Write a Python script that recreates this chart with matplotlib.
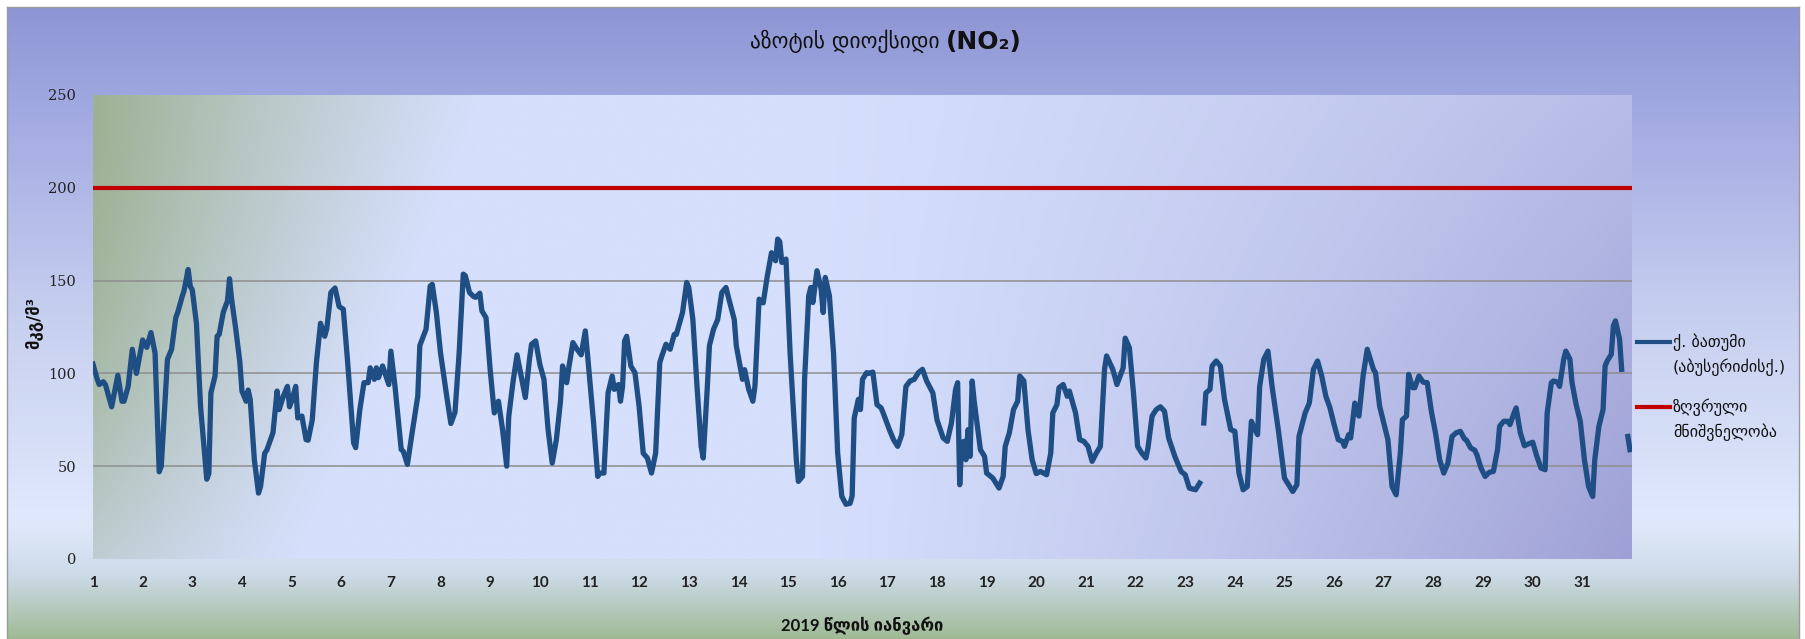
import numpy as np
import matplotlib
matplotlib.use('Agg')
import matplotlib.pyplot as plt
from matplotlib.lines import Line2D

# hourly NO2 readings, January 2019 (hour 0 = Jan 1 00:00); NaN = missing
hours = [
    0, 2, 3, 5, 6, 9, 12, 14, 15, 17, 19, 21, 24, 26, 28, 30, 32, 33, 36, 38,
    40, 41, 43, 44, 46, 47, 48, 50, 52, 55, 56, 57, 59, 60, 61, 63, 65, 66, 67, 69,
    71, 72, 74, 75, 76, 78, 80, 81, 83, 84, 87, 89, 90, 92, 94, 95, 96, 98, 99, 101,
    103, 104, 106, 108, 110, 112, 113, 115, 117, 119, 121, 123, 126, 127, 129, 131, 133, 134, 136, 137,
    138, 140, 143, 144, 146, 149, 150, 152, 154, 157, 158, 161, 163, 164, 166, 168, 171, 173, 175, 177,
    179, 180, 182, 184, 185, 187, 188, 190, 192, 194, 196, 198, 200, 201, 203, 205, 207, 209, 211, 212,
    214, 216, 218, 220, 222, 224, 226, 227, 229, 230, 232, 234, 236, 238, 239, 242, 244, 245, 247, 249,
    251, 252, 254, 255, 256, 257, 258, 260, 262, 264, 266, 268, 270, 272, 274, 275, 277, 279, 281, 282,
    284, 285, 287, 288, 290, 292, 294, 295, 297, 298, 300, 302, 304, 306, 307, 310, 311, 314, 315, 317,
    319, 320, 322, 324, 326, 328, 330, 331, 332, 333, 335, 337, 340, 341, 343, 344, 346, 347, 348, 350,
    352, 353, 354, 356, 358, 360, 362, 364, 366, 367, 368, 370, 371, 372, 374, 375, 377, 379, 381, 382,
    385, 387, 389, 391, 393, 395, 397, 399, 401, 403, 406, 408, 411, 413, 415, 417, 418, 419, 420, 421,
    422, 423, 424, 425, 426, 429, 431, 432, 435, 438, 440, 441, 443, 445, 447, 448, 450, 452, 454, 456,
    458, 461, 463, 464, 466, 467, 469, 471, 472, 475, 477, 479, 481, 483, 485, 487, 489, 490, 493, 495,
    497, 498, 499, 501, 503, 505, 507, 509, 510, 512, 514, 516, 518, 520, 523, 526, 528, 530, 533, 535,
    536, 537, 538, 540, 541, 543, 545, 547, 550, 552, 554, 556, 558, 560, 561, 563, 564, 566, 568, 570,
    573, 576, 577, 580, 582, 583, 586, 588, 590, 592, 594, 596, 598, 600, 602, 604, 605, 607, 608, 610,
    611, 612, 614, 616, 617, 619, 620, 622, 624, 626, 628, 630, 632, 633, 635, 636, 638, 639, 641, 643,
    645, 647, 649, 651, 653, 655, 657, 659, 661, 663, 664, 666, 668, 669, 671, 673, 675, 677, 679, 680,
    682, 684, 685, 687, 688, 690, 692, 693, 696, 698, 700, 702, 703, 705, 706, 708, 709, 711, 712, 714,
    715, 717, 719, 721, 723, 725, 726, 728, 730, 731, 732, 734, 735, 736, 738, 739, 740, 741, 742, 743,
]
no2 = [
    105, 97, 94, 95.5, 94, 82, 99, 85, 85, 93, 113, 100, 118, 114, 122, 111, 47, 50, 107.6, 113,
    130, 133, 141, 144.5, 156, 147, 145, 127, 82, 43, 46, 89.5, 98.6, 120, 121, 133, 139, 151, 140, 124,
    106, 90.5, 85, 91, 86, 53.5, 35.5, 39, 57, 58.6, 68, 90.5, 80.5, 87.7, 93, 82, 85, 93, 76, 77,
    64.3, 64, 75, 105.8, 127, 120, 124, 143.6, 146, 136, 134.6, 107.6, 62.5, 60, 80.5, 95, 95, 103, 96.8, 103,
    97.7, 104, 94, 112, 93, 59, 58, 51, 66, 87.7, 115, 123.8, 147, 148, 132.8, 111, 87.7, 73, 79, 111,
    153.5, 152.6, 143.6, 141.4, 141, 143.2, 133.7, 130, 102, 78.7, 85, 69.7, 50, 76.9, 95, 110, 98.6, 87, 107.6, 115.7,
    117.5, 104.9, 96.8, 69.7, 51.7, 64.3, 85, 104, 95, 103, 116.6, 113, 110, 122.9, 111, 73.3, 44.5, 46.3, 46.3, 89.5,
    98.6, 91.4, 94, 85, 93, 117.5, 120, 104, 100.4, 82.3, 57, 54.4, 46.3, 57, 105.8, 109.4, 115.7, 113, 121, 121,
    129, 132.8, 149, 146.3, 129, 93, 60.7, 54.4, 93, 115, 123.8, 129, 143.6, 146.3, 141.8, 129, 114.8, 96.8, 102, 91.4,
    85, 93, 140, 138, 152.6, 165, 160.7, 172.4, 171, 159.8, 161.6, 111, 53.5, 41.8, 44.5, 96.8, 141.8, 146.3, 138.2, 155.3,
    145.4, 132.8, 151.7, 141.8, 111, 57, 33.7, 29.5, 30, 34, 76, 86, 80.5, 96.8, 100.4, 100, 100.7, 83.2, 81.4, 78.7,
    69.7, 64.3, 60.7, 67, 93, 95.9, 96.8, 100.4, 102.2, 95.9, 89.5, 75, 65.2, 63.4, 73.3, 91.4, 95, 40, 62.5, 63.4,
    53.5, 69.7, 55.3, 95.9, 85, 58.9, 55.3, 46.3, 43.6, 38.2, 44.5, 60.7, 68, 80.5, 85, 98.6, 95.9, 69.7, 53.5, 46,
    47.2, 45.4, 57, 78.7, 83.2, 92.3, 94, 87.7, 90.5, 78.7, 64.3, 63.4, 60.7, 52.6, 57, 60.7, 102.2, 109.4, 102.2, 94,
    100, 103, 119, 113.9, 89.5, 60.7, 57.1, 54.4, 59.8, 77, 80.5, 82, 79.6, 65.2, 55.3, 47.2, 45.4, 38.2, 37.3, 40.9,
    np.nan, 73.3, 89.5, 91.4, 104, 106.7, 104, 86, 69.7, 68.8, 46.3, 37.3, 39, 74.2, 71.5, 67, 93, 107.6, 112, 93,
    69.7, 43.6, 41.8, 36.4, 40, 66, 78.7, 84, 102.2, 106.7, 98.6, 87.7, 81.4, 72.4, 64.3, 63.4, 60.7, 67, 65.2, 84,
    78.7, 77, 98.6, 113, 109.4, 102.2, 100.4, 82.3, 73.3, 64.3, 39, 34.6, 57, 75, 77, 99.5, 92.3, 92.3, 98.6, 95.3,
    95, 79.6, 68, 53.5, 46.3, 51.7, 66, 68, 68.8, 64.7, 64, 59.8, 58.6, 56.2, 49, 44.5, 46.7, 47.2, 58.9, 71.5,
    74.2, 74.2, 72.4, 78.7, 81.4, 68, 61, 61.6, 62.9, 55.3, 49, 48.1, 78.7, 95, 95.9, 95.3, 93, 107.6, 112, 107.6,
    95, 83.2, 74.2, 53.5, 39, 33.7, 53.5, 71.5, 80.5, 104, 106.7, 110.3, 125.6, 128.3, 118.4, 102.2, np.nan, np.nan, 66, 58.9,
]
limit_value = 200
day_ticks = list(range(1, 32))
y_ticks = [0, 50, 100, 150, 200, 250]

title_ka = 'აზოტის დიოქსიდი'
title_formula = '(NO₂)'
series_label = ['ქ. ბათუმი', '(აბუსერიძისქ.)']
limit_label = ['ზღვრული', 'მნიშვნელობა']
xlabel = '2019 წლის იანვარი'
ylabel = 'მკგ/მ³'

W, H = 1805, 639
fig = plt.figure(figsize=(W / 100, H / 100), dpi=100)
fig.patch.set_facecolor('white')

# outer chart frame with vertical gradient
bg = fig.add_axes([7 / W, 0, 1792 / W, 632 / H], zorder=0)
stops = np.array([0.0, 0.15, 0.5, 0.82, 0.9, 1.0])
cols = np.array([[141, 149, 212], [160, 168, 225], [200, 208, 240],
                 [224, 233, 252], [205, 218, 232], [160, 186, 150]]) / 255
t = np.linspace(0, 1, 300)
grad = np.stack([np.interp(t, stops, cols[:, k]) for k in range(3)], axis=1)
bg.imshow(grad[:, None, :], aspect='auto', extent=[0, 1, 0, 1])
bg.set_xticks([])
bg.set_yticks([])
for s in bg.spines.values():
    s.set_color('#9a9a9a')
    s.set_linewidth(1)

ax = fig.add_axes([93 / W, 1 - 559 / H, (1632 - 93) / W, (559 - 95) / H], zorder=1)

# plot-area gradient: green-grey on the left, light blue middle, lavender right
xx, yy = np.meshgrid(np.linspace(0, 1, 400), np.linspace(0, 1, 200))
light = np.array([214, 223, 252]) / 255
green = np.array([157, 178, 148]) / 255
lav = np.array([158, 160, 213]) / 255
wg = np.clip(1 - xx / (0.26 - 0.12 * yy), 0, 1) ** 1.2 * (1 - 0.6 * yy ** 2)
wp = np.clip((xx - 0.45) / 0.55, 0, 1) ** 1.3 * (0.55 + 0.45 * yy)
img = light * (1 - wg - wp)[..., None] + green * wg[..., None] + lav * wp[..., None]
ax.imshow(img, aspect='auto', extent=[1, 32, 0, 250], zorder=0)

x = [1 + h / 24 for h in hours]
ax.plot(x, no2, color='#1f4e85', lw=3.8, solid_joinstyle='round', zorder=3)
ax.axhline(limit_value, color='#c00000', lw=3, zorder=3)
for v in y_ticks[1:-1]:
    ax.axhline(v, color='#8e8e8e', lw=1.1, zorder=1)

ax.set_xlim(1, 32)
ax.set_ylim(0, 250)
ax.set_xticks(day_ticks)
ax.set_xticklabels([str(d) for d in day_ticks], family=['Lato', 'DejaVu Sans'],
                   fontweight='bold', fontsize=11, color='#222222')
ax.set_yticks(y_ticks)
ax.set_yticklabels([str(v) for v in y_ticks], family='DejaVu Serif', fontsize=10.5,
                   color='#222222')
ax.tick_params(length=0)
ax.tick_params(axis='x', pad=12)
ax.tick_params(axis='y', pad=12)
for s in ax.spines.values():
    s.set_visible(False)

fig.text(940 / W, 1 - 41 / H, title_ka, ha='right', va='center', fontsize=15.5,
         family=['DejaVu Sans'], color='#111111')
fig.text(946 / W, 1 - 42 / H, title_formula, ha='left', va='center', fontsize=18,
         fontweight='bold', family=['DejaVu Sans'], color='#111111')
fig.text(862 / W, 1 - 626 / H, xlabel, ha='center', va='center', fontsize=12,
         fontweight='bold', family=['Lato', 'DejaVu Sans'], color='#111111')
fig.text(34 / W, 1 - 323 / H, ylabel, ha='center', va='center', rotation=90,
         fontsize=12, fontweight='bold', family=['DejaVu Sans'], color='#111111')

# legend
for color, lines, y0 in [('#1f4e85', series_label, 342), ('#c00000', limit_label, 407)]:
    fig.add_artist(Line2D([1637 / W, 1670 / W], [1 - y0 / H] * 2, color=color, lw=3,
                          transform=fig.transFigure))
    for i, txt in enumerate(lines):
        fig.text(1673 / W, 1 - (y0 + 25 * i) / H, txt, ha='left', va='center',
                 fontsize=11.5, family=['DejaVu Sans'], color='#111111')

fig.savefig('out.png', dpi=100)
